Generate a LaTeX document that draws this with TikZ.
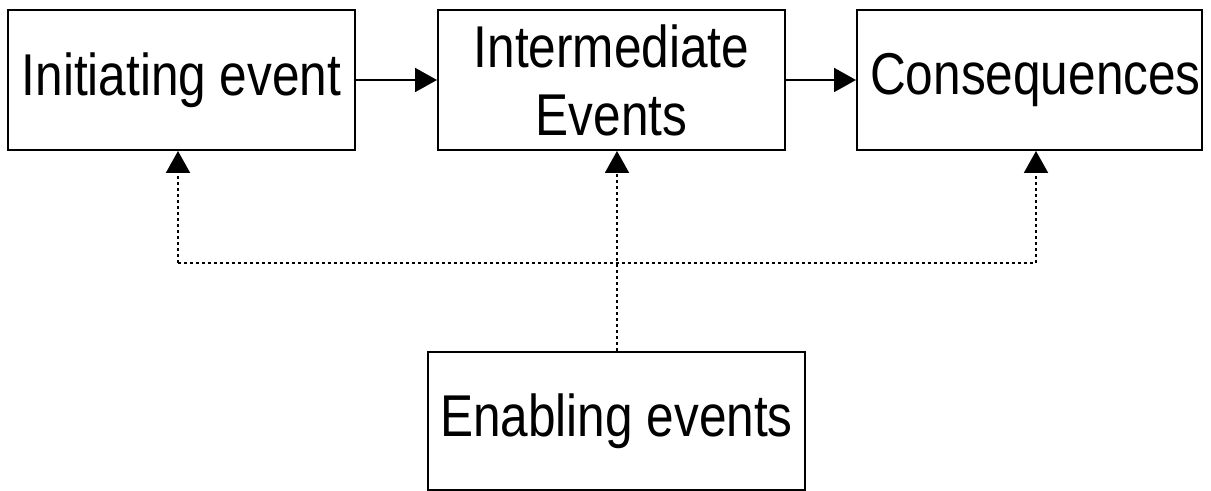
\documentclass[tikz,border=0pt]{standalone}
\usepackage{fontspec}
\newfontfamily\boxfont{Liberation Sans}[FakeStretch=0.84]
\usetikzlibrary{arrows.meta}

\begin{document}
\begin{tikzpicture}[x=0.5pt,y=-0.5pt,line width=1pt,
    evbox/.style={draw,rectangle,inner sep=0pt,align=center,
      font=\boxfont\fontsize{29.5}{34}\selectfont},
    flow/.style={-{Triangle[length=11pt,width=12pt]}},
    enable/.style={dash pattern=on 1.5pt off 1.5pt}]

        \useasboundingbox (0,0) rectangle (1211,491);

        \begin{scope}[every node/.style={evbox}]
          \node (init)  at (181.5,80) [minimum width=173.5pt,minimum height=70pt] {Initiating event};
          \node (inter) at (611.5,80) [minimum width=173.5pt,minimum height=70pt] {Intermediate\\Events};
          \node (cons)  at (1029.5,80) [minimum width=172.5pt,minimum height=70pt] {\hspace*{6pt}Consequences};
          \node (enab)  at (616.5,421) [minimum width=188.5pt,minimum height=69pt] {Enabling events};
        \end{scope}

        % junctions of the dotted lines
        \coordinate (jl) at (178,263);
        \coordinate (jm) at (617,263);
        \coordinate (jr) at (1036,263);

        \path[flow] (init) edge (inter);
        \path[flow] (inter) edge (cons);

        \begin{scope}[every edge/.style={draw,enable}]
          \path (jl) edge (jr);
          \path (enab.north -| jm) edge[flow] (jm |- inter.south);
          \path (jl) edge[flow] (jl |- init.south);
          \path (jr) edge[flow] (jr |- cons.south);
        \end{scope}

      \end{tikzpicture}
\end{document}
